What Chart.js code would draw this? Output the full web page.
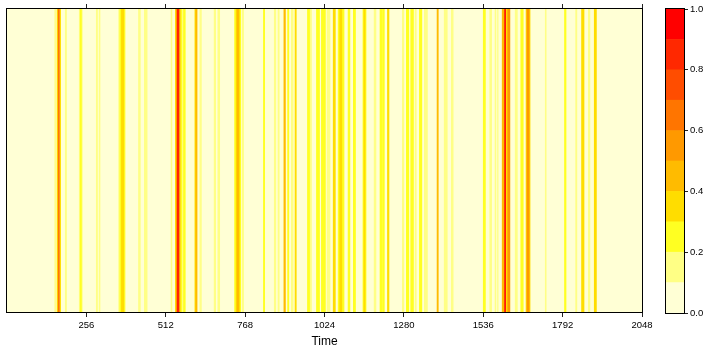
<!DOCTYPE html>
<html>
<head>
<meta charset="utf-8">
<script src="https://cdn.jsdelivr.net/npm/chart.js@4/dist/chart.umd.min.js"></script>
<style>
  html, body { margin: 0; padding: 0; background: #ffffff; }
  #wrap { position: relative; width: 708px; height: 352px; }
  #main { position: absolute; left: 0; top: 0; }
  #key  { position: absolute; left: 650px; top: 0; }
</style>
</head>
<body>
<div id="wrap">
  <canvas id="main" width="708" height="352"></canvas>
  <canvas id="key" width="58" height="352"></canvas>
</div>
<script>
// Time axis
const timeMin = 0;
const timeMax = 2048;
const timeStep = 256;
const axisTitle = 'Time';

// Intervals of the series whose value rises above the base level
const stripeStart = [154,162,165,170,188,233,236,288,297,360,364,369,424,443,529,543,546,550,553,558,
  569,606,609,622,668,680,734,739,742,759,827,862,874,893,905,917,929,969,978,998,
  1014,1032,1052,1068,1073,1100,1117,1148,1151,1184,1203,1211,1227,1275,1288,1302,1316,1330,1346,1387,
  1410,1433,1536,1557,1574,1582,1597,1605,1609,1615,1639,1657,1674,1677,1736,1798,1834,1853,1875,1894];
const stripeEnd = [159,165,169,173,192,243,240,292,300,382,379,377,430,452,532,546,550,553,558,565,
  575,609,613,627,673,686,754,750,747,763,831,867,878,898,909,923,933,976,982,1008,
  1027,1042,1059,1087,1080,1106,1124,1158,1155,1190,1209,1217,1232,1280,1296,1311,1320,1338,1356,1391,
  1420,1439,1543,1563,1577,1584,1605,1608,1615,1622,1646,1665,1687,1684,1739,1803,1838,1861,1880,1901];
const stripeValue = [0.15,0.35,0.65,0.35,0.15,0.15,0.25,0.15,0.15,0.15,0.25,0.35,0.15,0.15,0.15,0.35,0.55,0.95,0.55,0.25,
  0.25,0.35,0.45,0.15,0.15,0.15,0.25,0.35,0.45,0.15,0.25,0.15,0.15,0.45,0.25,0.15,0.35,0.25,0.15,0.25,
  0.25,0.15,0.35,0.25,0.35,0.25,0.25,0.25,0.35,0.15,0.25,0.25,0.35,0.15,0.25,0.25,0.15,0.25,0.15,0.45,
  0.15,0.15,0.25,0.15,0.15,0.15,0.45,0.95,0.35,0.55,0.15,0.25,0.35,0.55,0.15,0.25,0.15,0.35,0.15,0.35];
const baseValue = 0.05;

// Colour key: ten equal bins from 0 to 1
const levelBreaks = [0, 0.1, 0.2, 0.3, 0.4, 0.5, 0.6, 0.7, 0.8, 0.9, 1.0];
const levelColors = ['#FFFFD5','#FFFF85','#FFFF22','#FFDD00','#FFBB00','#FF9900','#FF7500','#FF4D00','#FF2800','#FF0000'];
const keyTicks = [0, 0.2, 0.4, 0.6, 0.8, 1.0];

function colorFor(v) {
  for (let i = 0; i < levelColors.length; i++) {
    if (v >= levelBreaks[i] && v < levelBreaks[i + 1]) return levelColors[i];
  }
  return levelColors[levelColors.length - 1];
}

const fontFamily = '"Liberation Sans", Arial, Helvetica, sans-serif';

// Outline around the plotting region
const framePlugin = {
  id: 'frame',
  afterDatasetsDraw(chart) {
    const a = chart.chartArea;
    const c = chart.ctx;
    c.save();
    c.strokeStyle = '#000000';
    c.lineWidth = 1;
    c.strokeRect(Math.round(a.left) - 0.5, Math.round(a.top) - 0.5,
                 Math.round(a.right - a.left) + 1, Math.round(a.bottom - a.top) + 1);
    c.restore();
  }
};

// One floating bar per interval, drawn along the time axis
const datasets = [{
  data: [[timeMin, timeMax]],
  backgroundColor: colorFor(baseValue),
  order: 1000
}];
stripeStart.forEach((s, i) => {
  datasets.push({
    data: [[s, stripeEnd[i]]],
    backgroundColor: colorFor(stripeValue[i]),
    order: -Math.round(stripeValue[i] * 100)
  });
});

const dropZero = s => { s.ticks = s.ticks.filter(t => t.value !== 0); };

new Chart(document.getElementById('main'), {
  type: 'bar',
  data: { labels: [''], datasets },
  plugins: [framePlugin],
  options: {
    responsive: false,
    animation: false,
    indexAxis: 'y',
    layout: { padding: { left: 7, right: 66, top: 0, bottom: 0 } },
    datasets: { bar: { grouped: false, barPercentage: 1, categoryPercentage: 1, borderWidth: 0 } },
    plugins: { legend: { display: false }, tooltip: { enabled: false } },
    scales: {
      y: { type: 'category', display: false },
      x: {
        type: 'linear', position: 'bottom', min: timeMin, max: timeMax,
        afterBuildTicks: dropZero,
        afterFit: s => { s.height = 40; },
        ticks: { stepSize: timeStep, color: '#000', padding: 3, maxRotation: 0,
                 font: { family: fontFamily, size: 9.5 },
                 callback: v => String(v) },
        grid: { drawOnChartArea: false, tickLength: 5, color: '#222' },
        border: { display: false },
        title: { display: true, text: axisTitle, color: '#000',
                 font: { family: fontFamily, size: 12 }, padding: { top: 0, bottom: 3 } }
      },
      xTop: {
        type: 'linear', position: 'top', axis: 'x', min: timeMin, max: timeMax,
        afterBuildTicks: dropZero,
        afterFit: s => { s.height = 9; },
        ticks: { stepSize: timeStep, display: false },
        grid: { drawOnChartArea: false, tickLength: 5, color: '#222' },
        border: { display: false }
      }
    }
  }
});

// Colour key
new Chart(document.getElementById('key'), {
  type: 'bar',
  data: {
    labels: [''],
    datasets: levelColors.map((c, i) => ({
      data: [levelBreaks[i + 1] - levelBreaks[i]],
      backgroundColor: c
    }))
  },
  plugins: [framePlugin],
  options: {
    responsive: false,
    animation: false,
    layout: { padding: { left: 16, right: 0, top: 9, bottom: 39 } },
    datasets: { bar: { barPercentage: 1, categoryPercentage: 1, borderWidth: 0 } },
    plugins: { legend: { display: false }, tooltip: { enabled: false } },
    scales: {
      x: { stacked: true, display: false },
      y: {
        stacked: true, position: 'right', min: 0, max: 1,
        afterBuildTicks: s => { s.ticks = keyTicks.map(v => ({ value: v })); },
        afterFit: s => { s.width = 24; },
        ticks: { color: '#000', padding: 2, font: { family: fontFamily, size: 9.5 },
                 callback: v => Number(v).toFixed(1) },
        grid: { drawOnChartArea: false, tickLength: 4, color: '#222' },
        border: { display: false }
      }
    }
  }
});
</script>
</body>
</html>
